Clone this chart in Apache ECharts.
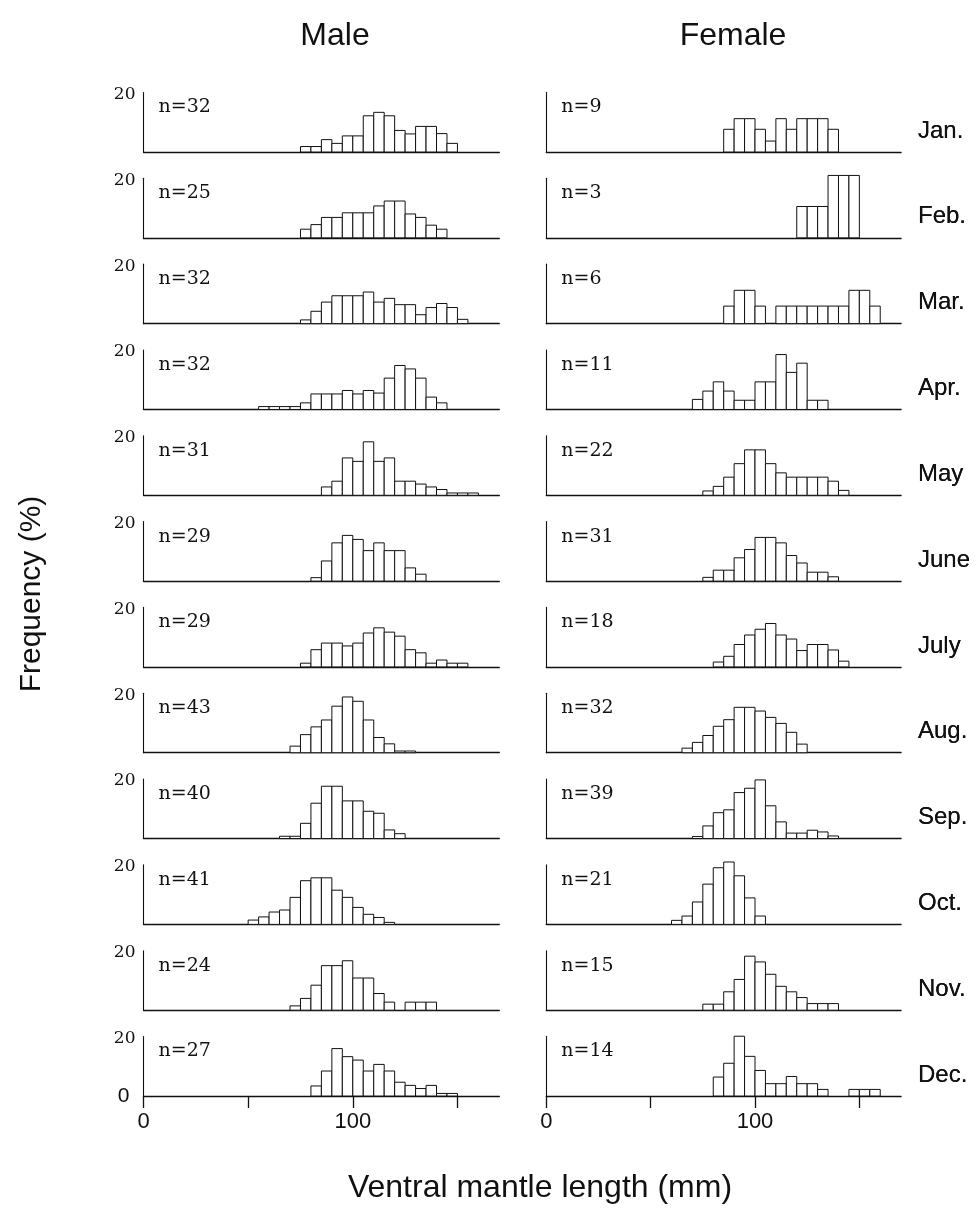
<!DOCTYPE html>
<html>
<head>
<meta charset="utf-8">
<script src="https://cdn.jsdelivr.net/npm/echarts@6/dist/echarts.min.js"></script>
<style>
html,body{margin:0;padding:0;background:#fff;}
#chart{width:979px;height:1212px;}
</style>
</head>
<body>
<div id="chart"></div>
<script>
// ---------------- data ----------------
const months = ['Jan.','Feb.','Mar.','Apr.','May','June','July','Aug.','Sep.','Oct.','Nov.','Dec.'];
const binWidth = 5; // mm
const maleN   = [32,25,32,32,31,29,29,43,40,41,24,27];
const femaleN = [9,3,6,11,22,31,18,32,39,21,15,14];
// first bin (mm) of each month
const maleStart   = [75,75,75,55,85,80,75,70,65,50,70,80];
const femaleStart = [85,120,85,70,75,75,80,65,70,60,75,80];
// frequency (%) per 5 mm bin
const maleFreq = [
  [1.9,1.9,4.3,3.0,5.6,5.6,12.6,13.8,12.6,7.5,6.3,8.9,8.9,6.4,3.0],
  [3.0,4.6,7.1,7.1,8.7,8.7,8.7,11.1,12.8,12.8,8.3,7.1,4.4,3.0],
  [1.3,4.3,7.5,9.7,9.7,9.7,11.0,7.5,8.8,6.6,6.6,3.1,5.6,7.0,5.6,1.5],
  [1.0,1.0,1.0,1.0,2.3,5.4,5.4,5.4,6.6,5.4,6.6,5.7,10.9,15.3,14.1,10.9,4.3,2.3],
  [2.9,4.9,13.0,11.8,18.6,11.8,13.0,4.9,4.9,3.9,2.9,2.0,0.8,0.8,0.8],
  [1.2,7.0,13.3,15.9,14.5,10.6,13.3,10.6,10.6,4.6,2.4],
  [1.3,6.0,8.3,8.3,7.3,8.3,11.8,13.6,12.1,10.7,6.0,4.9,1.3,2.4,1.3,1.3],
  [2.3,6.3,9.0,11.4,16.2,19.4,17.9,11.4,5.3,3.1,0.6,0.6],
  [0.8,0.8,5.3,12.3,18.2,18.2,13.1,13.1,9.5,8.8,3.0,1.7],
  [1.5,2.6,4.3,5.0,9.4,15.2,16.2,16.2,11.9,9.4,5.9,3.5,2.4,0.7],
  [1.5,4.1,8.7,15.5,15.5,17.2,11.2,11.2,5.8,2.8,0,2.8,2.8,2.8],
  [3.5,8.7,16.5,13.7,12.5,8.7,11.0,8.7,4.8,3.7,2.6,3.7,0.9,0.9]
];
const femaleFreq = [
  [7.9,11.6,11.6,7.9,3.8,11.6,7.9,11.6,11.6,11.6,7.9],
  [10.9,10.9,10.9,21.7,21.7,21.7],
  [6.1,11.6,11.6,6.1,0,6.1,6.1,6.1,6.1,6.1,6.1,6.1,11.6,11.6,6.1],
  [3.5,6.4,9.6,6.4,3.2,3.2,9.6,9.6,19.1,12.9,16.1,3.2,3.2],
  [1.5,3.1,6.3,11.0,15.8,15.8,11.0,7.8,6.3,6.3,6.3,6.3,4.9,1.7],
  [1.3,3.8,3.8,8.1,11.0,15.2,15.2,13.3,8.9,6.3,3.1,3.1,1.5],
  [1.7,3.7,7.8,11.1,13.1,15.1,11.1,9.7,5.7,7.8,7.8,5.9,2.0],
  [1.6,3.6,6.0,9.2,11.5,15.8,15.8,14.5,12.3,10.2,7.1,3.0],
  [0.7,4.4,9.0,10.0,16.0,17.5,20.4,11.4,5.8,1.9,1.9,2.9,2.3,0.9],
  [1.4,2.9,7.8,14.0,19.7,21.7,16.9,9.2,2.9],
  [2.1,2.1,6.4,10.7,18.8,16.8,12.5,8.3,6.4,4.4,2.3,2.3,2.3],
  [6.6,11.4,20.8,13.8,8.9,4.3,4.3,6.8,4.3,4.3,2.3,0,0,2.3,2.3,2.3]
];
const xTicks = [0,50,100,150];
const xTickLabels = [0,100];
const yTickLabel = 20;

// ---------------- layout ----------------
const X_MAX = 170, Y_MAX = 20.7;
const colLeft = [143.5, 546.3];
const colWidth = [355.8, 354.8];
const firstBase = 152, rowStep = 85.82, panelH = 59.5;
const serifFont = '"DejaVu Serif", "Liberation Serif", serif';
const sansFont = '"Liberation Sans", Arial, sans-serif';

const grids = [], xAxes = [], yAxes = [], series = [], graphics = [];

function toPairs(start, arr){
  return arr.map((v,i)=>[start + i*binWidth, v]);
}

for (let s = 0; s < 2; s++) {
  for (let k = 0; k < 12; k++) {
    const idx = s*12 + k;
    const base = firstBase + rowStep*k;
    const top = base - panelH;
    const last = (k === 11);
    grids.push({left: colLeft[s], top: top, width: colWidth[s], height: panelH});
    xAxes.push({
      type:'value', gridIndex: idx, min:0, max:X_MAX,
      axisLine:{show:true, lineStyle:{color:'#111', width:1.3}},
      axisTick:{show:last, customValues:xTicks, length:12, lineStyle:{color:'#111', width:1.3}},
      axisLabel:{show:last, customValues:xTickLabels, margin:15, color:'#111',
                 fontFamily:sansFont, fontSize:22},
      splitLine:{show:false}
    });
    yAxes.push({
      type:'value', gridIndex: idx, min:0, max:Y_MAX,
      axisLine:{show:true, onZero:false, lineStyle:{color:'#111', width:1.1}},
      axisTick:{show:false},
      splitLine:{show:false},
      axisLabel:{
        show: s === 0,
        customValues: last ? [0, yTickLabel] : [yTickLabel],
        margin: 8,
        color:'#111',
        fontFamily: serifFont, fontSize:17,
        formatter: function(v){ return v === 0 ? '{z|0}' : String(v); },
        rich:{ z:{ fontFamily:sansFont, fontSize:21, color:'#111', padding:[0,6,0,0] } }
      }
    });
    const data = s === 0 ? toPairs(maleStart[k], maleFreq[k]) : toPairs(femaleStart[k], femaleFreq[k]);
    series.push({
      type:'custom', xAxisIndex: idx, yAxisIndex: idx, clip:false,
      data: data,
      renderItem: function(params, api){
        const x = api.value(0), v = api.value(1);
        if (!v) return null;
        const p0 = api.coord([x, 0]);
        const p1 = api.coord([x + binWidth, v]);
        return {type:'rect',
          shape:{x:p0[0], y:p1[1], width:p1[0]-p0[0], height:p0[1]-p1[1]},
          style:{fill:'#fff', stroke:'#111', lineWidth:1}};
      }
    });
    // n= label
    graphics.push({type:'text', x: colLeft[s] + 15, y: top + 15,
      style:{text:'n=' + (s === 0 ? maleN[k] : femaleN[k]), font:'19px ' + serifFont, fill:'#111',
             textAlign:'left', textVerticalAlign:'middle'}});
    graphics.push({type:'text', x: 918, y: base - 21,
      style:{text: months[k], font:'24px ' + sansFont, fill:'#111',
             textAlign:'left', textVerticalAlign:'middle'}});
  }
}

graphics.push({type:'text', x: 335, y: 36, style:{text:'Male', font:'32px ' + sansFont, fill:'#111', textAlign:'center', textVerticalAlign:'middle'}});
graphics.push({type:'text', x: 733, y: 36, style:{text:'Female', font:'32px ' + sansFont, fill:'#111', textAlign:'center', textVerticalAlign:'middle'}});
graphics.push({type:'text', x: 540, y: 1188, style:{text:'Ventral mantle length (mm)', font:'32px ' + sansFont, fill:'#111', textAlign:'center', textVerticalAlign:'middle'}});
graphics.push({type:'text', x: 32, y: 594, rotation: Math.PI/2,
  style:{text:'Frequency (%)', font:'30px ' + sansFont, fill:'#111', textAlign:'center', textVerticalAlign:'middle'}});

const chart = echarts.init(document.getElementById('chart'), null, {renderer:'canvas'});
chart.setOption({
  animation:false,
  backgroundColor:'#fff',
  grid: grids, xAxis: xAxes, yAxis: yAxes, series: series, graphic: graphics
});
</script>
</body>
</html>
